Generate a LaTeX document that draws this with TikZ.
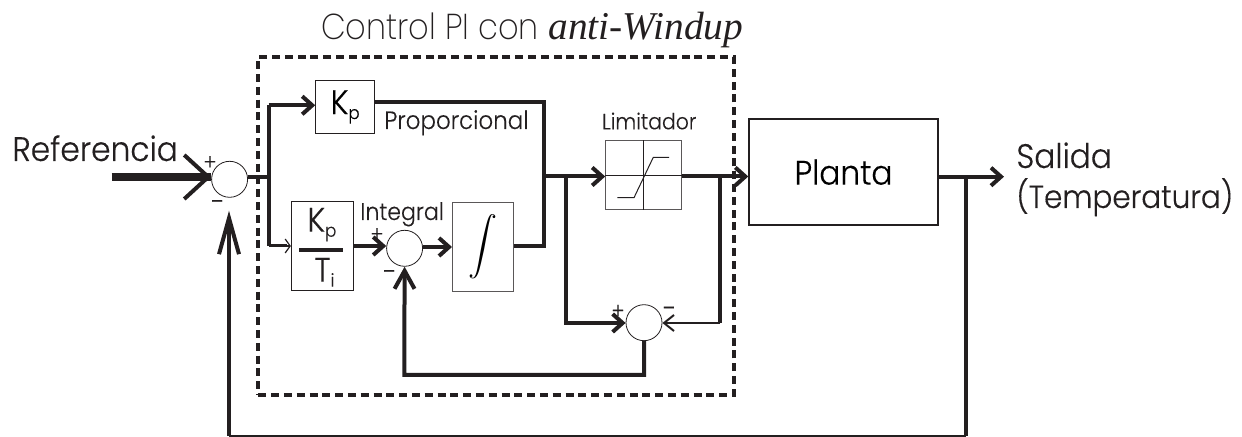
\documentclass[tikz,border=0pt]{standalone}
\usepackage{fontspec}
\setmainfont{Poppins Light}[FakeStretch=0.92,FakeBold=0.25]
\newfontfamily\titlefont{Poppins ExtraLight}[FakeStretch=0.89]
\newfontfamily\serifface{Liberation Serif}
\usetikzlibrary{arrows.meta}
\definecolor{ink}{HTML}{231F20}
\newcommand{\lowtxt}[1]{\raisebox{-2.5pt}{\fontsize{9}{9}\selectfont #1}}
\tikzset{
  wire/.style={line width=2pt,draw=ink},
  thinwire/.style={line width=1pt,draw=ink},
  barb/.style={-{Straight Barb[length=5pt,width=9pt]}},
  thinbarb/.style={-{Straight Barb[length=5pt,width=8pt]}},
  sumnode/.style={circle,draw=ink,line width=0.4pt,minimum size=18pt,inner sep=0pt},
  blockbox/.style={rectangle,draw=ink,line width=0.5pt,inner sep=0pt},
  plainlabel/.style={inner sep=0pt,text=ink,anchor=base west},
  signlabel/.style={inner sep=0pt,text=ink,font=\fontsize{11}{11}\selectfont},
  minuslabel/.style={inner sep=0pt,text=ink,font=\fontsize{14}{14}\selectfont}
}
\begin{document}
\begin{tikzpicture}[x=0.5pt,y=-0.5pt]
\useasboundingbox (0,0) rectangle (1242,437);

\node[rectangle,draw=ink,line width=2pt,dash pattern=on 4pt off 2.4pt,minimum width=237.85pt,minimum height=168.7pt,inner sep=0pt] (piBox) at (496.15,226) {};
\node[plainlabel,font=\fontsize{18}{18}\selectfont\titlefont] (title) at (320.7,39.3) {Control PI con\hspace{0.2pt} {\fontsize{19.7}{20}\selectfont\serifface\itshape anti-Windup}};

\node[sumnode] (sumA) at (229.6,179.3) {};
\node[sumnode] (sumB) at (404.6,248.3) {};
\node[sumnode] (sumC) at (644,322.7) {};

\node[blockbox,minimum width=29.45pt,minimum height=26.7pt,font=\fontsize{17}{17}\selectfont] (kp) at (345.15,107) {K\lowtxt{p}};
\node[blockbox,minimum width=31.1pt,minimum height=44.7pt] (kpti) at (322.5,246) {};
\node[blockbox,draw=ink!75,minimum width=30.8pt,minimum height=44.7pt] (integ) at (482.8,247) {\scalebox{1.45}{$\displaystyle\int$}};
\node[blockbox,draw=ink!75,minimum width=37.8pt,minimum height=34.5pt] (limit) at (643.5,175.2) {};
\node[blockbox,line width=1pt,minimum width=94.2pt,minimum height=52.85pt,font=\fontsize{17}{17}\selectfont] (planta) at (843.5,172.2) {Planta\hspace{5.5pt}};

\node[plainlabel,font=\fontsize{17}{17}\selectfont] (kptiK) at (307,231.7) {K\lowtxt{p}};
\node[plainlabel,font=\fontsize{17}{17}\selectfont] (kptiT) at (314,281.7) {T\lowtxt{i}};
\coordinate (barL) at (299,250.3);
\coordinate (barR) at (343,250.3);
\draw[wire] (barL) -- (barR);

\node[plainlabel,font=\fontsize{17}{17}\selectfont] (refLabel) at (12,161) {Referencia};
\node[plainlabel,font=\fontsize{12.5}{12.5}\selectfont] (propLabel) at (384,129) {Proporcional};
\node[plainlabel,font=\fontsize{12}{12}\selectfont] (intLabel) at (360,220) {Integral};
\node[plainlabel,font=\fontsize{11.1}{11.1}\selectfont] (limLabel) at (601.7,129.3) {Limitador};
\node[plainlabel,font=\fontsize{17}{17}\selectfont] (salLabel) at (1016,168) {Salida};
\node[plainlabel,font=\fontsize{16}{16}\selectfont] (tempLabel) at (1016,208) {(Temperatura)};

\node[signlabel] (plusA) at (210,163) {+};
\node[minuslabel] (minusA) at (218,205.7) {-};
\node[signlabel] (plusB) at (377,235) {+};
\node[minuslabel] (minusB) at (390,275.7) {-};
\node[signlabel] (plusC) at (618,311.7) {+};
\node[minuslabel] (minusC) at (669.7,312.3) {-};

% limiter curve
\draw[blockbox] (limit.north) -- (limit.south);
\draw[blockbox] (limit.west) -- (limit.east);
\draw[blockbox] (617.3,197.7) -- (634,197.7) -- (653.3,157.3) -- (669,157.3);

% input
\coordinate (refIn) at (111.5,177);
\draw[line width=3.75pt,draw=ink] (refIn) -- (sumA.west |- refIn);
\draw[wire,-{Straight Barb[length=12pt,width=22pt]}] (161,177) -- (sumA.west |- refIn);

\coordinate (splitA) at (268.5,177);
\coordinate (splitAtop) at (268.5,105.3);
\coordinate (splitAlow) at (268.5,246);
\draw[wire] (sumA.east |- splitA) -- (splitA);
\draw[wire] (splitAlow) -- (splitAtop);
\draw[wire,barb] (splitAtop) -- (kp.west |- splitAtop);
\draw[line width=1.5pt,draw=ink] (splitAlow) -- (287,246);
\draw[line width=0.6pt,draw=ink,-{Straight Barb[length=2.5pt,width=7pt]}] (285,246) -- (kpti.west |- splitAlow);

\draw[wire,barb] (kpti.east |- splitAlow) -- (sumB.west |- splitAlow);
\coordinate (integIn) at (452,247);
\draw[wire,barb] (sumB.east |- integIn) -- (integIn);

% proportional and integral meet
\coordinate (kpOut) at (374.6,101.7);
\coordinate (joinTop) at (544,101.7);
\coordinate (joinLow) at (544,246);
\draw[wire,line join=miter] (kpOut) -- (joinTop) -- (joinLow) -- (integ.east |- joinLow);
\coordinate (joinMid) at (544,176.5);
\draw[wire,barb] (joinMid) -- (limit.west |- joinMid);

% anti-windup loop
\coordinate (backL) at (566,176.5);
\coordinate (backR) at (720,176.5);
\coordinate (backLlow) at (566,323);
\coordinate (backRlow) at (720,323);
\draw[wire,barb] (limit.east |- joinMid) -- (planta.west |- joinMid);
\draw[wire,barb,line join=miter] (backL) -- (backLlow) -- (sumC.west |- backLlow);
\draw[wire] (backR) -- (backRlow);
\draw[thinwire,thinbarb] (backRlow) -- (sumC.east |- backRlow);
\coordinate (antiLow) at (404.3,375);
\draw[wire,line join=miter,-{Straight Barb[length=9pt,width=10pt]}] (sumC.south) -- (sumC.south |- antiLow) -- (antiLow) -- (sumB.south);

% output and feedback
\coordinate (outEnd) at (1004,176.7);
\coordinate (outSplit) at (965.7,176.7);
\coordinate (fbRight) at (965.7,436);
\coordinate (fbLeft) at (229,436);
\coordinate (fbTip) at (229,210.7);
\draw[wire,barb] (planta.east |- outEnd) -- (outEnd);
\draw[wire] (outSplit) -- (fbRight);
\draw[thinwire] (fbRight) -- (fbLeft);
\draw[wire,-{Straight Barb[length=18pt,width=10pt]}] (fbLeft) -- (fbTip);
\end{tikzpicture}
\end{document}
